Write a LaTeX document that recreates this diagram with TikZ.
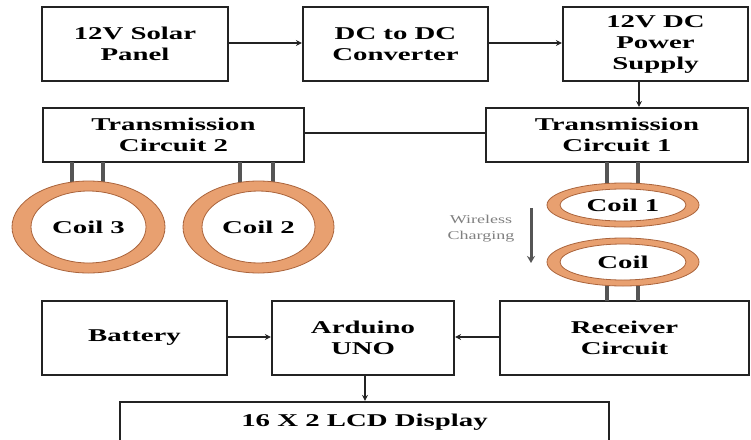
\documentclass[tikz,border=0pt]{standalone}
\usepackage{fontspec}
\setmainfont{Liberation Serif}[FakeStretch=1.6]
\newfontfamily\smallf{Liberation Serif}[FakeStretch=1.5]
\usetikzlibrary{arrows.meta}
\definecolor{ringfill}{RGB}{232,160,112}
\definecolor{ringline}{RGB}{170,100,60}
\definecolor{leadc}{RGB}{85,85,85}
\definecolor{boxline}{RGB}{35,35,35}
\tikzset{
  blk/.style={draw=boxline, line width=2.2pt, align=center, inner sep=0pt,
    font=\fontsize{18}{21}\selectfont\bfseries},
  lbl/.style={align=center, inner sep=0pt, font=\fontsize{18}{21}\selectfont\bfseries},
  arr/.style={draw=boxline, line width=1.8pt, -{Stealth[length=6pt,width=6pt]}},
  conn/.style={draw=boxline, line width=1.8pt},
  lead/.style={draw=leadc, line width=3.5pt},
}
\begin{document}
\begin{tikzpicture}[x=1pt,y=-1pt]
\useasboundingbox[fill=white] (0,0) rectangle (751,439);
% top row
\node[blk, minimum width=186pt, minimum height=74pt] (sp) at (135,44) {12V Solar\\Panel};
\node[blk, minimum width=185pt, minimum height=74pt] (dc) at (395.5,44) {DC to DC\\Converter};
\node[blk, minimum width=185pt, minimum height=74pt] (ps) at (655.5,44) {12V DC\\Power\\Supply};
% transmission
\node[blk, minimum width=261pt, minimum height=54pt] (tc2) at (173.5,135) {Transmission\\Circuit 2};
\node[blk, minimum width=262pt, minimum height=54pt] (tc1) at (617,135) {Transmission\\Circuit 1};
% bottom
\node[blk, minimum width=185pt, minimum height=74pt] (bat) at (134.5,338) {Battery};
\node[blk, minimum width=182pt, minimum height=74pt] (ard) at (363,338) {Arduino\\UNO};
\node[blk, minimum width=249pt, minimum height=74pt] (rc) at (624.5,338) {Receiver\\Circuit};
\node[blk, minimum width=489pt, minimum height=46pt] (lcd) at (364.5,425) {};
\node[lbl] (lcdt) at (364.5,422) {16 X 2 LCD Display};
% coil leads
\draw[lead] (72,162) -- (72,184);
\draw[lead] (103,162) -- (103,184);
\draw[lead] (240,162) -- (240,184);
\draw[lead] (273,162) -- (273,184);
\draw[lead] (607,162) -- (607,186);
\draw[lead] (638,162) -- (638,186);
\draw[lead] (607,284) -- (607,301);
\draw[lead] (638,284) -- (638,301);
% rings
\foreach \cx/\cy/\rx/\ry/\tx/\ty/\nm in {88.5/227/76.5/46/19/10/c3, 258.5/227/75.5/46/19/10/c2, 623/205/76/22/13/6/c1, 623/262/76/24/13/6/c0}{
  \fill[ringfill, even odd rule] (\cx,\cy) ellipse [x radius=\rx, y radius=\ry]
     (\cx,\cy) ellipse [x radius=\rx-\tx, y radius=\ry-\ty];
  \draw[ringline, line width=0.8pt] (\cx,\cy) ellipse [x radius=\rx, y radius=\ry];
  \draw[ringline, line width=0.8pt] (\cx,\cy) ellipse [x radius=\rx-\tx, y radius=\ry-\ty];
  \coordinate (\nm) at (\cx,\cy);
}
\node[lbl] (c3t) at (c3) {Coil 3};
\node[lbl] (c2t) at (c2) {Coil 2};
\node[lbl] (c1t) at (c1) {Coil 1};
\node[lbl] (c0t) at (c0) {Coil};
% wireless charging
\coordinate (wa) at (531,208);
\coordinate (wb) at (531,263);
\draw[draw=leadc, line width=3pt, -{Stealth[length=7pt,width=8pt]}] (wa) -- (wb);
\node[align=center, inner sep=0pt, text=gray, font=\smallf\fontsize{12}{16}\selectfont] (wl) at (481,229) {Wireless\\Charging};
% connectors
\draw[arr] (sp.east |- 0,43) -- (dc.west |- 0,43);
\draw[arr] (dc.east |- 0,43) -- (ps.west |- 0,43);
\draw[arr] (ps.south -| 639,0) -- (tc1.north -| 639,0);
\draw[conn] (tc2.east |- 0,133) -- (tc1.west |- 0,133);
\draw[arr] (bat.east |- 0,337) -- (ard.west |- 0,337);
\draw[arr] (rc.west |- 0,337) -- (ard.east |- 0,337);
\draw[arr] (ard.south -| 365,0) -- (lcd.north -| 365,0);
\end{tikzpicture}
\end{document}
